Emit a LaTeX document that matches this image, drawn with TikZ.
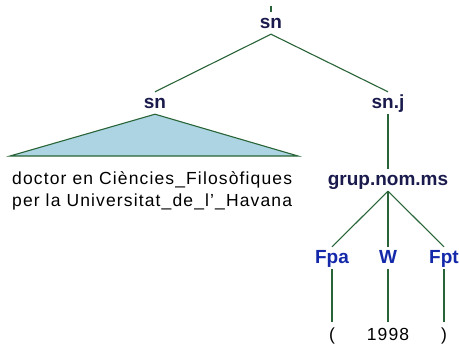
\documentclass[tikz,border=0pt]{standalone}
\usepackage{fontspec}
\setmainfont{Liberation Sans}
\newfontfamily\leaffont[LetterSpace=6.5]{Liberation Sans}
\definecolor{catnavy}{RGB}{26,26,77}
\definecolor{tagblue}{RGB}{20,40,170}
\definecolor{branchgreen}{RGB}{40,100,55}
\definecolor{trifill}{RGB}{172,212,226}
\usetikzlibrary{positioning}

\begin{document}
\begin{tikzpicture}[
    x=1pt, y=-1pt,
    cat/.style={font=\fontsize{19}{22}\selectfont\bfseries, text=catnavy, anchor=base, inner xsep=0pt, inner ysep=2pt, text height=14pt, text depth=4pt},
    tag/.style={cat, text=tagblue},
    word/.style={font=\leaffont\fontsize{17.5}{20}\selectfont, text=black, anchor=base, inner xsep=0pt, inner ysep=6pt, text height=12pt, text depth=3pt},
    branch/.style={draw=branchgreen, line width=1.1pt}
]
    \useasboundingbox (0,0) rectangle (459,346);

    \coordinate (tick) at (271,6);
    \node[cat] (root) at (271,28) {sn};
    \draw[branch] (tick) -- ++(0,6);

    \node[cat] (np) at (155,108) {sn};
    \node[cat] (npj) at (388,108) {sn.j};
    \draw[branch] (root.south) -- (np.north);
    \draw[branch] (root.south) -- (npj.north);

    % collapsed subtree
    \coordinate (triL) at (10,156);
    \coordinate (triR) at (298,156);
    \draw[branch, fill=trifill] (np.south) -- (triR) -- (triL) -- cycle;
    \node[word, anchor=base west] (yield1) at (12,184) {doctor en Ciències\_Filosòfiques};
    \node[word, anchor=base west] (yield2) at (12,206) {per la Universitat\_de\_l’\_Havana};

    \node[cat] (gnom) at (388,185) {grup.nom.ms};
    \draw[branch] (npj.south) -- (gnom.north);

    \node[tag] (fpa) at (332,263) {Fpa};
    \node[tag] (w) at (388,263) {W};
    \node[tag] (fpt) at (444,263) {Fpt};
    \foreach \t in {fpa,w,fpt}
        \draw[branch] (gnom.south) -- (\t.north);

    \node[word] (lpar) at (332,340) {(};
    \node[word] (year) at (388,340) {1998};
    \node[word] (rpar) at (444,340) {)};
    \draw[branch] (fpa) -- (lpar);
    \draw[branch] (w) -- (year);
    \draw[branch] (fpt) -- (rpar);
\end{tikzpicture}
\end{document}
